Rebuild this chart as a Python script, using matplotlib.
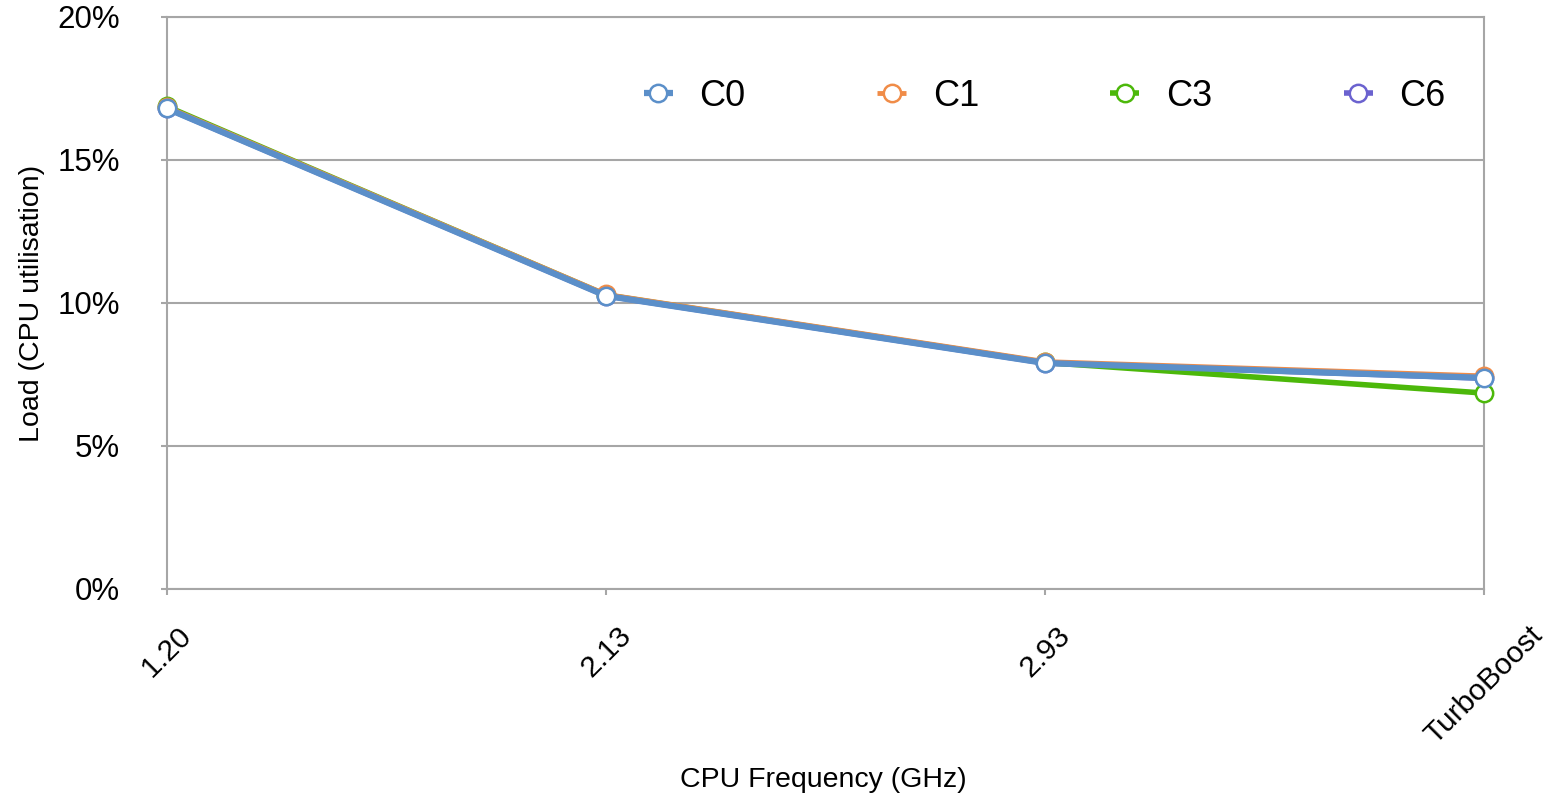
import matplotlib.pyplot as plt
from matplotlib.ticker import FuncFormatter

plt.rcParams['font.family'] = ['Liberation Sans', 'DejaVu Sans']

frequencies = ['1.20', '2.13', '2.93', 'TurboBoost']
series_names = ['C0', 'C1', 'C3', 'C6']
load_c0 = [16.80, 10.25, 7.90, 7.38]
load_c1 = [16.85, 10.30, 7.95, 7.45]
load_c3 = [16.87, 10.28, 7.92, 6.85]
load_c6 = [16.80, 10.25, 7.90, 7.37]
yticks = [0, 5, 10, 15, 20]

colors = {'C0': '#5b8fc9', 'C1': '#f08c48', 'C3': '#4cb80a', 'C6': '#6b62cf'}
widths = {'C0': 4.5, 'C1': 3.5, 'C3': 4.0, 'C6': 4.0}
loads = {'C0': load_c0, 'C1': load_c1, 'C3': load_c3, 'C6': load_c6}

fig = plt.figure(figsize=(15.48, 7.97), dpi=100)
ax = fig.add_axes([0.1079, 0.261, 0.8508, 0.7177])

x = list(range(len(frequencies)))
handles = {}
# C0 goes on top of the rest
for name in ['C6', 'C3', 'C1', 'C0']:
    h, = ax.plot(x, loads[name], color=colors[name], lw=widths[name],
                 marker='o', markersize=12.5, markerfacecolor='white',
                 markeredgecolor=colors[name], markeredgewidth=1.8,
                 solid_capstyle='butt', clip_on=False, zorder=3)
    handles[name] = h

ax.set_xlim(0, 3)
ax.set_ylim(0, 20)
ax.set_xticks(x)
ax.set_xticklabels(frequencies, rotation=45, ha='center', va='top', fontsize=21.5)
ax.set_yticks(yticks)
ax.yaxis.set_major_formatter(FuncFormatter(lambda v, p: f'{v:.0f}%'))
ax.tick_params(axis='y', labelsize=22.5, length=4, color='#a6a6a6', width=1.5, pad=30)
ax.tick_params(axis='x', length=4.3, color='#a6a6a6', width=1.5, pad=19)

ax.grid(axis='y', color='#a6a6a6', lw=1.5)
ax.set_axisbelow(True)
for s in ax.spines.values():
    s.set_color('#a6a6a6')
    s.set_linewidth(1.5)

ax.set_xlabel('CPU Frequency (GHz)', fontsize=20.5, va='center')
ax.xaxis.set_label_coords(0.4985, -0.334)
ax.set_ylabel('Load (CPU utilisation)', fontsize=20.5, labelpad=9)

ax.legend([handles[n] for n in series_names], series_names, ncol=4,
          frameon=False, fontsize=26, handlelength=0.8, handletextpad=0.74,
          columnspacing=3.64, borderpad=0, borderaxespad=0,
          loc='center left', bbox_to_anchor=(644 / 1548, 1 - 96 / 797),
          bbox_transform=fig.transFigure)

fig.savefig('out.png', dpi=100)
